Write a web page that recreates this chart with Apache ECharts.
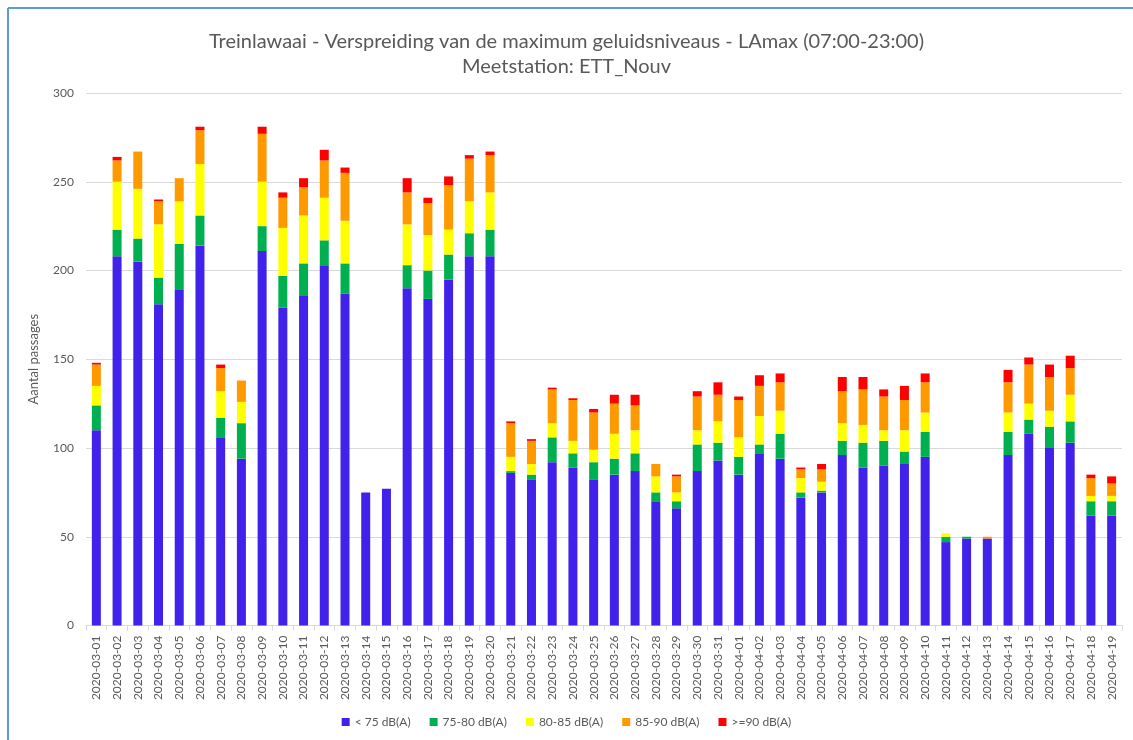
<!DOCTYPE html>
<html>
<head>
<meta charset="utf-8">
<title>Treinlawaai - LAmax</title>
<script src="https://cdn.jsdelivr.net/npm/echarts@6/dist/echarts.min.js"></script>
<style>
  html, body { margin: 0; padding: 0; background: #fff; }
  #chart { width: 1133px; height: 740px; }
</style>
</head>
<body>
<div id="chart"></div>
<script>
// dagen
const days = [
  '2020-03-01', '2020-03-02', '2020-03-03', '2020-03-04', '2020-03-05', '2020-03-06', '2020-03-07',
  '2020-03-08', '2020-03-09', '2020-03-10', '2020-03-11', '2020-03-12', '2020-03-13', '2020-03-14',
  '2020-03-15', '2020-03-16', '2020-03-17', '2020-03-18', '2020-03-19', '2020-03-20', '2020-03-21',
  '2020-03-22', '2020-03-23', '2020-03-24', '2020-03-25', '2020-03-26', '2020-03-27', '2020-03-28',
  '2020-03-29', '2020-03-30', '2020-03-31', '2020-04-01', '2020-04-02', '2020-04-03', '2020-04-04',
  '2020-04-05', '2020-04-06', '2020-04-07', '2020-04-08', '2020-04-09', '2020-04-10', '2020-04-11',
  '2020-04-12', '2020-04-13', '2020-04-14', '2020-04-15', '2020-04-16', '2020-04-17', '2020-04-18',
  '2020-04-19'
]

// aantal passages per klasse
const below75 = [110, 208, 205, 181, 189, 214, 106, 94, 211, 179, 186, 203, 187, 75, 77, 190, 184, 195, 208, 208,
  86, 82, 92, 89, 82, 85, 87, 70, 66, 87, 93, 85, 97, 94, 72, 75, 96, 89, 90, 91, 95, 47, 49, 49, 96, 108, 100, 103, 62, 62]
const from75to80 = [14, 15, 13, 15, 26, 17, 11, 20, 14, 18, 18, 14, 17, 0, 0, 13, 16, 14, 13, 15,
  1, 3, 14, 8, 10, 9, 10, 5, 4, 15, 10, 10, 5, 14, 3, 1, 8, 14, 14, 7, 14, 3, 1, 0, 13, 8, 12, 12, 8, 8]
const from80to85 = [11, 27, 28, 30, 24, 29, 15, 12, 25, 27, 27, 24, 24, 0, 0, 23, 20, 14, 18, 21,
  8, 6, 8, 7, 7, 14, 13, 9, 5, 8, 12, 11, 16, 13, 8, 5, 10, 10, 6, 12, 11, 2, 0, 0, 11, 9, 9, 15, 3, 3]
const from85to90 = [12, 12, 21, 13, 13, 19, 13, 12, 27, 17, 16, 21, 27, 0, 0, 18, 18, 25, 24, 21,
  19, 13, 19, 23, 21, 17, 14, 7, 9, 19, 15, 21, 17, 16, 5, 7, 18, 20, 19, 17, 17, 0, 0, 1, 17, 22, 19, 15, 10, 7]
const above90 = [1, 2, 0, 1, 0, 2, 2, 0, 4, 3, 5, 6, 3, 0, 0, 8, 3, 5, 2, 2,
  1, 1, 1, 1, 2, 5, 6, 0, 1, 3, 7, 2, 6, 5, 1, 3, 8, 7, 4, 8, 5, 0, 0, 0, 7, 4, 7, 7, 2, 4]

const seriesNames = ['< 75 dB(A)', '75-80 dB(A)', '80-85 dB(A)', '85-90 dB(A)', '>=90 dB(A)']
const seriesData = [below75, from75to80, from80to85, from85to90, above90]
const colors = ['#4122EA', '#00B050', '#FFFF00', '#FF9900', '#FF0000']

const textColor = '#595959'
const lineColor = '#D9D9D9'
const font = 'Lato, "Open Sans", sans-serif'

const chart = echarts.init(document.getElementById('chart'), null, { renderer: 'canvas' })

const option = {
  backgroundColor: '#fff',
  animation: false,
  color: colors,
  textStyle: { fontFamily: font },
  title: {
    text: 'Treinlawaai - Verspreiding van de maximum geluidsniveaus - LAmax (07:00-23:00)\nMeetstation: ETT_Nouv',
    left: 'center',
    top: 24,
    textStyle: {
      fontFamily: font,
      fontSize: 20,
      fontWeight: 'normal',
      color: textColor,
      lineHeight: 25,
      align: 'center'
    }
  },
  legend: {
    bottom: 7,
    left: 'center',
    itemWidth: 8,
    itemHeight: 8,
    itemGap: 19,
    icon: 'rect',
    textStyle: { fontFamily: font, fontSize: 12, color: textColor },
    data: seriesNames
  },
  grid: {
    left: 86,
    right: 11,
    top: 93,
    bottom: 114.5
  },
  xAxis: {
    type: 'category',
    data: days,
    boundaryGap: true,
    axisLine: { lineStyle: { color: lineColor } },
    axisTick: { show: true, length: 5, lineStyle: { color: lineColor } },
    axisLabel: {
      interval: 0,
      rotate: 90,
      fontSize: 12,
      color: textColor,
      margin: 10
    }
  },
  yAxis: {
    type: 'value',
    min: 0,
    max: 300,
    interval: 50,
    name: 'Aantal passages',
    nameLocation: 'middle',
    nameGap: 46,
    nameTextStyle: { fontFamily: font, fontSize: 13, color: textColor },
    axisLine: { show: false },
    axisTick: { show: false },
    axisLabel: { fontSize: 12, color: textColor, margin: 12 },
    splitLine: { lineStyle: { color: lineColor } }
  },
  // blauwe kader links en boven
  graphic: [
    { type: 'line', shape: { x1: 8, y1: 8, x2: 1133, y2: 8 }, style: { stroke: '#5B9BD5', lineWidth: 2 } },
    { type: 'line', shape: { x1: 8, y1: 8, x2: 8, y2: 740 }, style: { stroke: '#5B9BD5', lineWidth: 2 } }
  ],
  series: seriesNames.map((name, i) => ({
    name: name,
    type: 'bar',
    stack: 'passages',
    barWidth: 9,
    data: seriesData[i]
  }))
}

chart.setOption(option)
</script>
</body>
</html>
